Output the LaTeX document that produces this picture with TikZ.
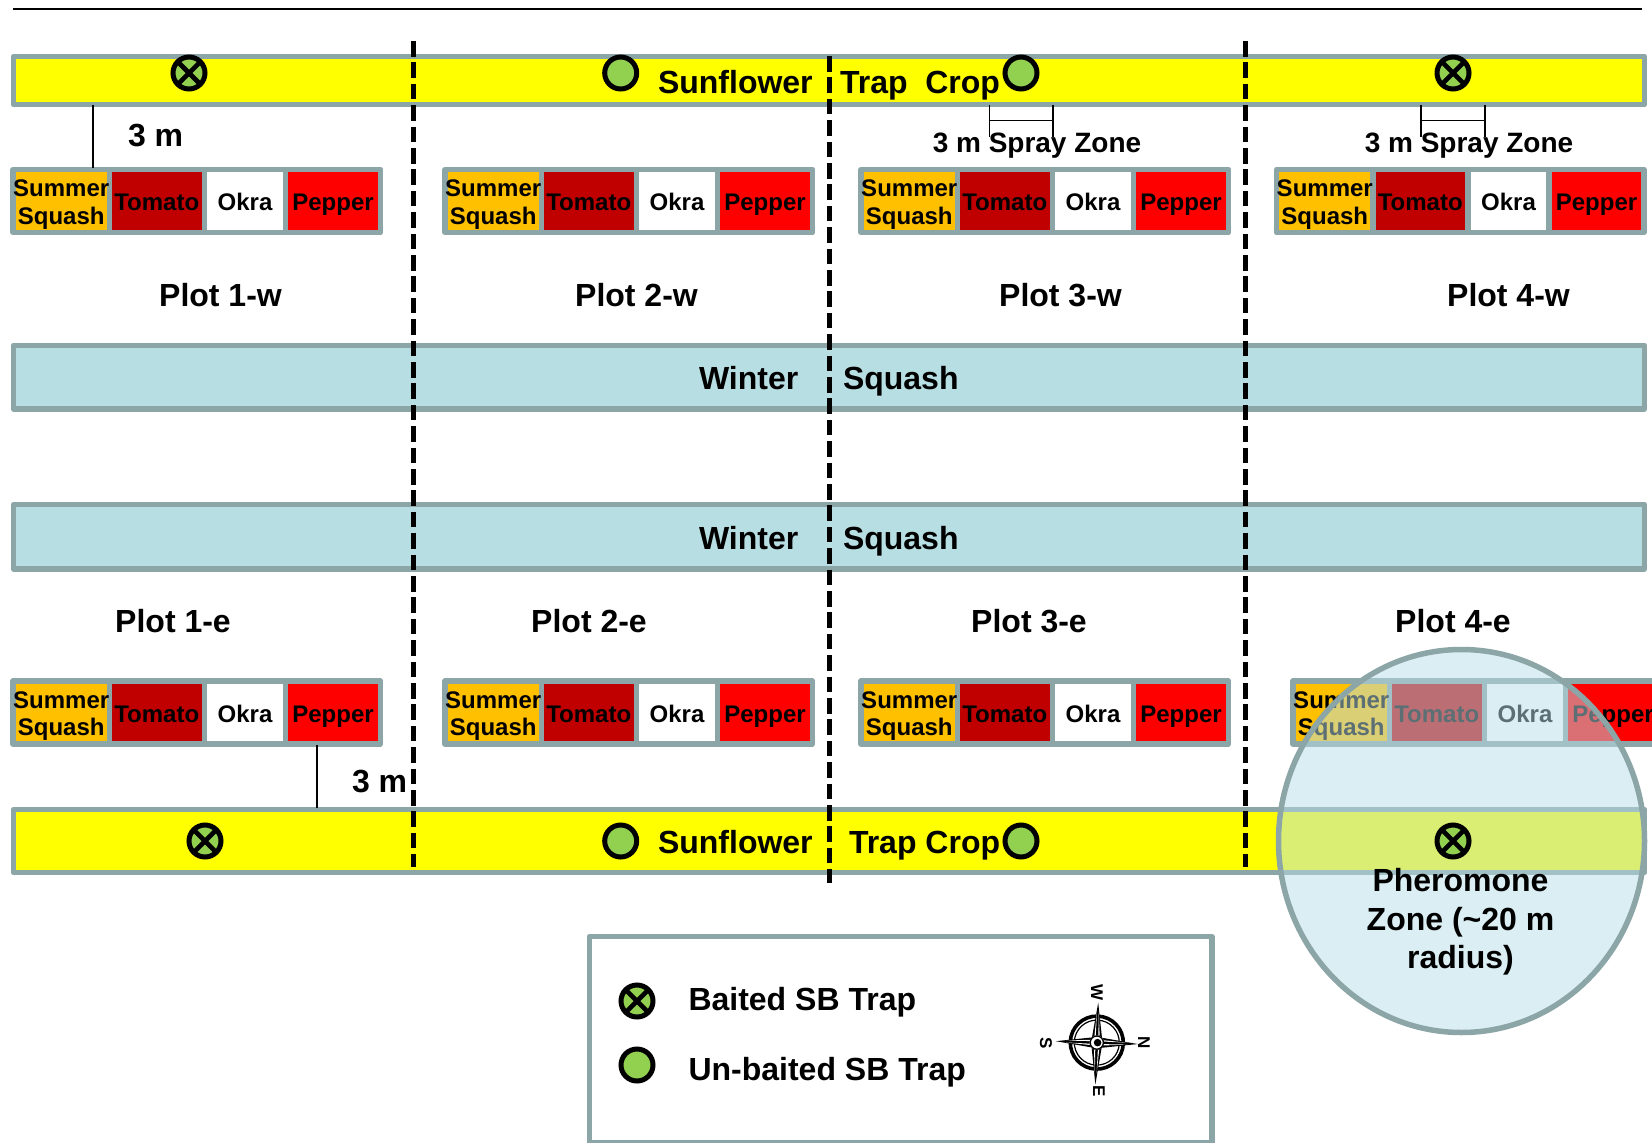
\documentclass[tikz,border=0pt]{standalone}
\usepackage{fontspec}
\setmainfont{Liberation Sans}
\usetikzlibrary{shapes.geometric}
\definecolor{edgegrey}{HTML}{8CA5A7}
\definecolor{trapyellow}{HTML}{FFFF00}
\definecolor{squashorange}{HTML}{FFC000}
\definecolor{tomatored}{HTML}{C00000}
\definecolor{pepperred}{HTML}{FF0000}
\definecolor{wintertint}{HTML}{B7DFE3}
\definecolor{zonetint}{HTML}{B7DEE8}
\definecolor{trapgreen}{HTML}{92D050}
\tikzset{
  cell/.style={draw=edgegrey,line width=5.5pt,line join=round,rectangle,inner sep=0pt,outer sep=0pt,
    minimum height=63pt,text=black,font=\fontsize{24}{27.5}\selectfont\bfseries},
  oneline/.style={text height=19.2pt,text depth=0pt},
  band/.style={draw=edgegrey,line width=5.3pt,line join=round,rectangle,inner sep=0pt,outer sep=0pt,minimum width=1631pt},
  lab/.style={inner sep=0pt,outer sep=0pt,anchor=base west,font=\fontsize{32}{38.5}\selectfont\bfseries},
  labc/.style={inner sep=0pt,outer sep=0pt,anchor=base,font=\fontsize{32}{38.5}\selectfont\bfseries},
  spray/.style={inner sep=0pt,outer sep=0pt,anchor=base,font=\fontsize{28}{34}\selectfont\bfseries},
  trapopen/.style={circle,draw=black,fill=trapgreen,line width=5pt,minimum size=32pt,inner sep=0pt,outer sep=0pt},
  trapbait/.style={trapopen,path picture={
    \draw[black,line width=4.6pt] ([shift={(-12pt,-12pt)}]path picture bounding box.center) -- ([shift={(12pt,12pt)}]path picture bounding box.center);
    \draw[black,line width=4.6pt] ([shift={(-12pt,12pt)}]path picture bounding box.center) -- ([shift={(12pt,-12pt)}]path picture bounding box.center);}},
  divider/.style={black,line width=5pt,dash pattern=on 15.5pt off 5.9pt},
  measure/.style={black,line width=1.7pt},
  compassletter/.style={inner sep=0pt,outer sep=0pt,rotate=-90,font=\fontsize{17}{19}\selectfont\bfseries}
}
\newcommand{\croprow}[3]{%
  \node[cell,fill=pepperred,minimum width=95pt,oneline] (#1p) at ({#2+333},#3) {Pepper};
  \node[cell,fill=white,minimum width=81pt,oneline] (#1o) at ({#2+245},#3) {Okra};
  \node[cell,fill=tomatored,minimum width=95.5pt,oneline] (#1t) at ({#2+156.75},#3) {Tomato};
  \node[cell,fill=squashorange,minimum width=95.5pt,align=center] (#1s) at ({#2+61.25},#3) {\rule{0pt}{19.2pt}Summer\\\smash{Squash}};
}
\begin{document}
\begin{tikzpicture}[x=1pt,y=-1pt]
\path[use as bounding box] (0,0) rectangle (1652,1143);
\clip (0,0) rectangle (1652,1143);
\fill[white] (0,0) rectangle (1652,1143);

% top rule
\coordinate (ruleL) at (13,9); \coordinate (ruleR) at (1642,9);
\draw[black,line width=1.7pt] (ruleL) -- (ruleR);

% bands
\node[band,fill=trapyellow,minimum height=48pt] (topband) at (829,80.5) {};
\node[band,fill=wintertint,minimum height=63.8pt] (win1) at (829,377.1) {};
\node[band,fill=wintertint,minimum height=64.2pt] (win2) at (829,536.9) {};
\node[band,fill=trapyellow,minimum height=63pt] (botband) at (829,841) {};

% crop rows
\croprow{wa}{0}{201}
\croprow{wb}{432}{201}
\croprow{wc}{848}{201}
\croprow{wd}{1263.5}{201}
\croprow{ea}{0}{712.5}
\croprow{eb}{432}{712.5}
\croprow{ec}{848}{712.5}
\croprow{ed}{1280}{712.5}

% pheromone zone
\node[ellipse,draw=edgegrey,line width=5.5pt,fill=zonetint,fill opacity=0.5,draw opacity=1,
  minimum width=366pt,minimum height=383pt,inner sep=0pt,outer sep=0pt] (zone) at (1461.5,841) {};

% dividers
\coordinate (d1t) at (413,41); \coordinate (d1b) at (413,867);
\coordinate (d2t) at (829,56); \coordinate (d2b) at (829,883);
\coordinate (d3t) at (1245,41); \coordinate (d3b) at (1245,867);
\draw[divider] (d1t) -- (d1b);
\draw[divider] (d2t) -- (d2b);
\draw[divider] (d3t) -- (d3b);

% 3 m leaders
\coordinate (m1t) at (93,105); \coordinate (m1b) at (93,168);
\draw[measure] (m1t) -- (m1b);
\coordinate (m2t) at (317,745); \coordinate (m2b) at (317,808);
\draw[measure] (m2t) -- (m2b);
\node[lab] (m1lab) at (128,146) {3 m};
\node[lab] (m2lab) at (352,792.5) {3 m};

% spray zones
\coordinate (s1a) at (989.5,105); \coordinate (s1b) at (989.5,137);
\coordinate (s1c) at (1053,105); \coordinate (s1d) at (1053,137);
\coordinate (s1e) at (989.5,120.5); \coordinate (s1f) at (1053,120.5);
\draw[measure] (s1a) -- (s1b); \draw[measure] (s1c) -- (s1d); \draw[measure] (s1e) -- (s1f);
\coordinate (s2a) at (1421,105); \coordinate (s2b) at (1421,137);
\coordinate (s2c) at (1485,105); \coordinate (s2d) at (1485,137);
\coordinate (s2e) at (1421,120.5); \coordinate (s2f) at (1485,120.5);
\draw[measure] (s2a) -- (s2b); \draw[measure] (s2c) -- (s2d); \draw[measure] (s2e) -- (s2f);
\node[spray] (s1lab) at (1037,152.5) {3 m Spray Zone};
\node[spray] (s2lab) at (1469,152.5) {3 m Spray Zone};

% band labels
\node[lab] (tsun) at (658,93.5) {Sunflower};
\node[lab] (ttrap) at (840,93.5) {Trap~~Crop};
\node[lab] (bsun) at (658,853.7) {Sunflower};
\node[lab] (btrap) at (849,853.7) {Trap Crop};
\node[lab] (w1a) at (699,389) {Winter};
\node[lab] (w1b) at (843,389) {Squash};
\node[lab] (w2a) at (699,549) {Winter};
\node[lab] (w2b) at (843,549) {Squash};

% plot labels
\node[labc] (p1w) at (220.5,306) {Plot 1-w};
\node[labc] (p2w) at (636.5,306) {Plot 2-w};
\node[labc] (p3w) at (1060.5,306) {Plot 3-w};
\node[labc] (p4w) at (1508.5,306) {Plot 4-w};
\node[labc] (p1e) at (173,632) {Plot 1-e};
\node[labc] (p2e) at (589,632) {Plot 2-e};
\node[labc] (p3e) at (1029,632) {Plot 3-e};
\node[labc] (p4e) at (1453,632) {Plot 4-e};

% traps
\node[trapbait] (t1) at (189,73) {};
\node[trapopen] (t2) at (620.7,73) {};
\node[trapopen] (t3) at (1021,73) {};
\node[trapbait] (t4) at (1453,73) {};
\node[trapbait] (b1) at (205,841) {};
\node[trapopen] (b2) at (620.7,841) {};
\node[trapopen] (b3) at (1021,841) {};
\node[trapbait] (b4) at (1453,841) {};

% pheromone text
\node[labc] (ph1) at (1460.5,891) {Pheromone};
\node[labc] (ph2) at (1460.5,930) {Zone (\textasciitilde 20 m};
\node[labc] (ph3) at (1460.5,968) {radius)};

% legend
\node[draw=edgegrey,line width=5.3pt,line join=round,rectangle,inner sep=0pt,outer sep=0pt,
  minimum width=622.5pt,minimum height=206.5pt] (legend) at (900.75,1039.75) {};
\node[trapbait] (lg1) at (637,1001) {};
\node[trapopen] (lg2) at (637,1065) {};
\node[lab] (lg1t) at (688.5,1010) {Baited SB Trap};
\node[lab] (lg2t) at (688.5,1080) {Un-baited SB Trap};

% compass
\begin{scope}[shift={(1096.8,1042.6)},rotate=-2]
  \draw[black,line width=3.6pt] (0,0) circle[radius=26.5pt];
  \draw[black,line width=1.2pt] (0,0) circle[radius=22.5pt];
  \fill[black] (0,-40) -- (5,-5) -- (41,0) -- (5,5) -- (0,42) -- (-5,5) -- (-41,0) -- (-5,-5) -- cycle;
  \foreach \a in {0,90,180,270}{
    \begin{scope}[rotate=\a]
      \fill[white] (-2.6,-7) -- (-0.9,-31) -- (-1.3,-7) -- cycle;
      \fill[white] (2.6,-7) -- (0.9,-31) -- (1.3,-7) -- cycle;
    \end{scope}
  }
  \fill[white] (0,0) circle[radius=7.2pt];
  \draw[black,line width=1.3pt] (0,0) circle[radius=6.6pt];
  \fill[black] (0.8,0) circle[radius=3.8pt];
\end{scope}
\node[compassletter] (cw) at (1097,993) {W};
\node[compassletter] (cs) at (1046,1043) {S};
\node[compassletter] (cn) at (1144,1043) {N};
\node[compassletter] (ce) at (1099,1091.5) {E};
\end{tikzpicture}
\end{document}
